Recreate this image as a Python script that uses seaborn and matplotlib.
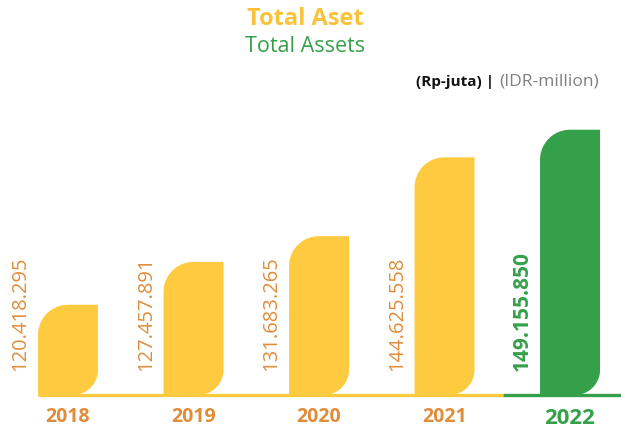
import numpy as np
import pandas as pd
import matplotlib
matplotlib.use('Agg')
import matplotlib.pyplot as plt
import seaborn as sns
from matplotlib.patches import Polygon

# Data (Rp-juta)
years = ['2018', '2019', '2020', '2021', '2022']
total_assets = [120418295, 127457891, 131683265, 144625558, 149155850]
bar_colors = ['#FECB40', '#FECB40', '#FECB40', '#FECB40', '#35A04A']
label_colors = ['#E08C3A', '#E08C3A', '#E08C3A', '#E08C3A', '#35A04A']

df = pd.DataFrame({'year': years, 'assets': total_assets})

BASE = 105.6e6   # value at the baseline (chart is not zero-based)
TOP = 170.46e6

sns.set_style('white')
plt.rcParams['font.family'] = ['Open Sans', 'DejaVu Sans']

fig = plt.figure(figsize=(6.21, 4.32), dpi=100)
ax = fig.add_axes([0, 37 / 432, 1, 1 - 37 / 432])

sns.barplot(data=df, x='year', y='assets', hue='year', palette=bar_colors,
            width=0.478, legend=False, ax=ax)
ax.set_xlim(-0.542, 4.406)
ax.set_ylim(BASE, TOP)

# pixel scale of the data units
p0, p1 = ax.transData.transform([[0, 0], [1, 1e6]])
px_x = p1[0] - p0[0]
px_y = p1[1] - p0[1]

# replace plain bars with leaf-shaped bars (round top-left, round bottom-right)
bars = list(ax.patches)
for bar, col in zip(bars, bar_colors):
    x0 = bar.get_x()
    w = bar.get_width()
    x1 = x0 + w
    y1 = bar.get_height()
    y0 = BASE
    r1 = 0.5 * w * px_x        # radius in pixels
    r2 = 0.42 * w * px_x
    rx1, ry1 = r1 / px_x, r1 / px_y * 1e6
    rx2, ry2 = r2 / px_x, r2 / px_y * 1e6
    t = np.linspace(0, np.pi / 2, 30)
    pts = [(x0, y0), (x0, y1 - ry1)]
    # top-left arc
    pts += list(zip(x0 + rx1 - rx1 * np.cos(t), y1 - ry1 + ry1 * np.sin(t)))
    pts += [(x1, y1), (x1, y0 + ry2)]
    # bottom-right arc
    pts += list(zip(x1 - rx2 + rx2 * np.cos(t), y0 + ry2 - ry2 * np.sin(t)))
    bar.set_visible(False)
    ax.add_patch(Polygon(pts, closed=True, facecolor=col, edgecolor='none', zorder=3))

# baseline strip
ax.hlines(BASE, -0.239, 3.466, color='#FECB40', lw=2.4, zorder=2, clip_on=False)
ax.hlines(BASE, 3.466, 4.406, color='#35A04A', lw=2.4, zorder=2, clip_on=False)

# value labels, rotated, left of each bar
for i, v in enumerate(total_assets):
    txt = f'{v:,}'.replace(',', '.')
    bold = i == len(total_assets) - 1
    ax.text(i - 0.379, BASE + 24 / px_y * 1e6, txt, rotation=90,
            ha='center', va='bottom', color=label_colors[i],
            fontsize=15 if bold else 14.5,
            fontweight='bold' if bold else 'normal')

# year tick labels
ax.set_xlabel('')
ax.set_ylabel('')
ax.set_yticks([])
ax.tick_params(axis='x', length=0, pad=9)
ax.set_xticks(range(len(years)))
ax.set_xticklabels(years)
for lab, col, i in zip(ax.get_xticklabels(), label_colors, range(len(years))):
    lab.set_color(col)
    lab.set_fontweight('bold')
    lab.set_fontsize(16 if i == len(years) - 1 else 14)
sns.despine(ax=ax, left=True, bottom=True)

# titles
fig.text(0.491, 1 - 19 / 432, 'Total Aset', ha='center', va='center',
         color='#FBC33A', fontsize=17, fontweight='bold')
fig.text(0.491, 1 - 46 / 432, 'Total Assets', ha='center', va='center',
         color='#35A04A', fontsize=15.5)
fig.text(494 / 621, 1 - 82 / 432, '(Rp-juta) |', ha='right', va='center',
         color='#111111', fontsize=11, fontweight='bold')
fig.text(499 / 621, 1 - 82 / 432, '(IDR-million)', ha='left', va='center',
         color='#7F7F7F', fontsize=12.5)

fig.savefig('out.png', dpi=100)
